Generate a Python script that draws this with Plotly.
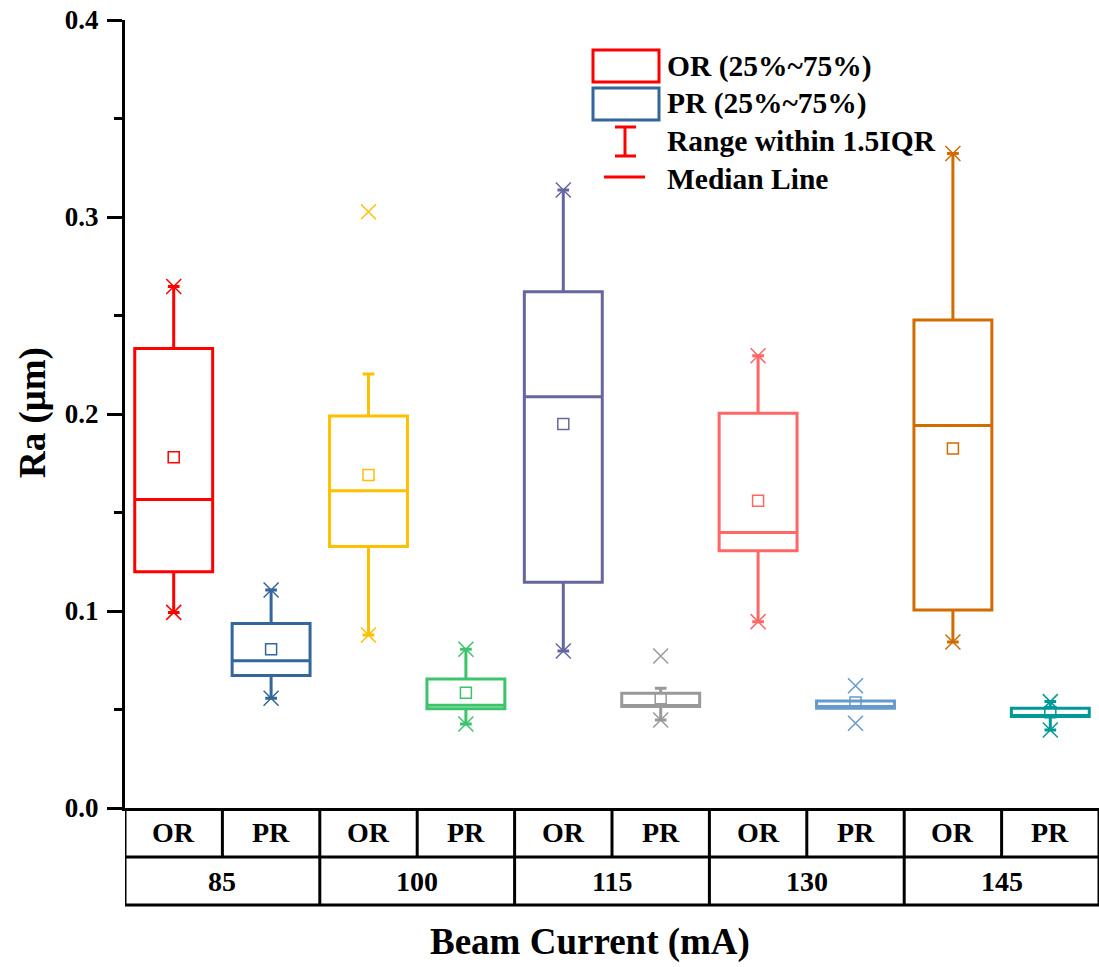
import plotly.graph_objects as go

# Beam current groups and the two regions measured in each
currents = ["85", "100", "115", "130", "145"]
regions = ["OR", "PR"] * 5

box_colors = ["#FF0000", "#33669A", "#FFC000", "#3CC46C", "#66669F",
              "#999999", "#FF6666", "#6699CC", "#D26B00", "#009999"]

# Box statistics of Ra (µm) per slot
q1 = [0.1199, 0.0672, 0.1327, 0.0504, 0.1146, 0.0515, 0.1306, 0.0506, 0.1005, 0.0464]
median = [0.1566, 0.0748, 0.1610, 0.0521, 0.2088, 0.0520, 0.1398, 0.0515, 0.1942, 0.0470]
q3 = [0.2333, 0.0937, 0.1990, 0.0655, 0.2621, 0.0582, 0.2004, 0.0543, 0.2477, 0.0506]
whisker_low = [0.0993, 0.0557, 0.0878, 0.0426, 0.0797, 0.0447, 0.0946, 0.0506, 0.0843, 0.0396]
whisker_high = [0.2647, 0.1107, 0.2203, 0.0806, 0.3137, 0.0608, 0.2296, 0.0543, 0.3322, 0.0540]
mean = [0.1780, 0.0806, 0.1690, 0.0585, 0.1949, 0.0557, 0.1560, 0.0536, 0.1825, 0.0486]
min_vals = [0.0993, 0.0557, 0.0878, 0.0426, 0.0797, 0.0447, 0.0946, 0.0430, 0.0843, 0.0396]
max_vals = [0.2647, 0.1107, 0.3027, 0.0806, 0.3137, 0.0772, 0.2296, 0.0621, 0.3322, 0.0540]

FONT = "Liberation Serif"
W, H = 1099, 967
ML, MT, MB, MR = 125, 20, 159, 0
PW, PH = W - ML - MR, H - MT - MB


def px(xp):
    return (xp - ML) / PW


def py(yp):
    return (H - MB - yp) / PH


def label(text, x, y, size, xref="paper", yref="paper", xanchor="center", angle=0):
    return dict(x=x, y=y, xref=xref, yref=yref, text="<b>%s</b>" % text,
                xanchor=xanchor, yanchor="middle", textangle=angle, showarrow=False,
                font=dict(family=FONT, size=size, color="black"))


fig = go.Figure()
slots = list(range(len(regions)))

for i in slots:
    fig.add_trace(go.Box(
        x=[i], q1=[q1[i]], median=[median[i]], q3=[q3[i]],
        lowerfence=[whisker_low[i]], upperfence=[whisker_high[i]],
        width=0.8, whiskerwidth=0.15, boxpoints=False,
        line=dict(color=box_colors[i], width=3),
        fillcolor="rgba(255,255,255,0)", showlegend=False, hoverinfo="skip",
    ))

# Mean markers
fig.add_trace(go.Scatter(
    x=slots, y=mean, mode="markers", showlegend=False,
    marker=dict(symbol="square-open", size=11, color=box_colors,
                line=dict(width=1.5)),
))

# Minimum / maximum markers
for vals in (min_vals, max_vals):
    fig.add_trace(go.Scatter(
        x=slots, y=vals, mode="markers", showlegend=False,
        marker=dict(symbol="x-thin-open", size=15, color=box_colors,
                    line=dict(width=1.5)),
    ))

shapes = []
LW = 3
# Category table under the axis
row1 = py(857)
row2 = py(905)
for yv in (row1, row2):
    shapes.append(dict(type="line", xref="paper", yref="paper", x0=0, x1=1,
                       y0=yv, y1=yv, line=dict(color="black", width=LW)))
for k in range(len(regions) + 1):
    shapes.append(dict(type="line", xref="x", yref="paper", x0=k - 0.5, x1=k - 0.5,
                       y0=0, y1=row1, line=dict(color="black", width=LW)))
for k in range(0, len(regions) + 1, 2):
    shapes.append(dict(type="line", xref="x", yref="paper", x0=k - 0.5, x1=k - 0.5,
                       y0=row1, y1=row2, line=dict(color="black", width=LW)))

annotations = []
for i, r in enumerate(regions):
    annotations.append(label(r, i, py(832), 28, xref="x"))
for g, c in enumerate(currents):
    annotations.append(label(c, 2 * g + 0.5, py(881), 28, xref="x"))

# Legend
shapes.append(dict(type="rect", xref="paper", yref="paper", x0=px(593), x1=px(659),
                   y0=py(50), y1=py(82), line=dict(color="#FF0000", width=LW)))
shapes.append(dict(type="rect", xref="paper", yref="paper", x0=px(593), x1=px(659),
                   y0=py(88), y1=py(120), line=dict(color="#33669A", width=LW)))
shapes.append(dict(type="line", xref="paper", yref="paper", x0=px(625), x1=px(625),
                   y0=py(127), y1=py(156), line=dict(color="#FF0000", width=LW)))
for yy in (127, 156):
    shapes.append(dict(type="line", xref="paper", yref="paper", x0=px(615), x1=px(636),
                       y0=py(yy), y1=py(yy), line=dict(color="#FF0000", width=LW)))
shapes.append(dict(type="line", xref="paper", yref="paper", x0=px(604), x1=px(645),
                   y0=py(177), y1=py(177), line=dict(color="#FF0000", width=LW)))

legend_items = [("OR (25%~75%)", 66), ("PR (25%~75%)", 104),
                ("Range within 1.5IQR", 141), ("Median Line", 179)]
for txt, yy in legend_items:
    annotations.append(label(txt, px(665), py(yy), 29.5, xanchor="left"))

# Axis titles
annotations.append(label("Beam Current (mA)", px(590), py(942), 37))
annotations.append(label("Ra (μm)", px(33), py(413), 37, angle=-90))

fig.update_layout(
    width=W, height=H,
    margin=dict(l=ML, r=MR, t=MT, b=MB),
    paper_bgcolor="white", plot_bgcolor="white",
    font=dict(family=FONT, color="black"),
    shapes=shapes, annotations=annotations,
    xaxis=dict(range=[-0.5, 9.5], showgrid=False, zeroline=False, showticklabels=False,
               ticks="", showline=True, linecolor="black", linewidth=LW),
    yaxis=dict(range=[0, 0.4], dtick=0.1, tickformat=".1f", showgrid=False, zeroline=False,
               showline=True, linecolor="black", linewidth=LW,
               ticks="outside", ticklen=15, tickwidth=LW, tickcolor="black",
               ticklabelstandoff=3,
               tickfont=dict(family=FONT, size=27, color="black", weight="bold"),
               minor=dict(dtick=0.05, ticks="outside", ticklen=8, tickwidth=LW,
                          tickcolor="black")),
)

fig.write_html("out.html")
